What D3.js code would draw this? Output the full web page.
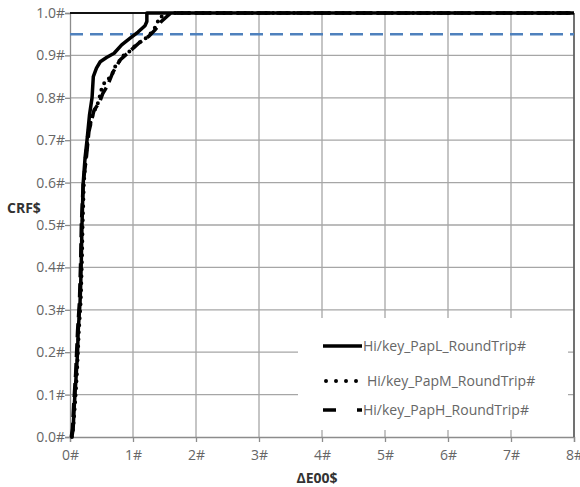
<!DOCTYPE html>
<html>
<head>
<meta charset="utf-8">
<script src="https://cdn.jsdelivr.net/npm/d3@7"></script>
<style>
  body { margin: 0; background: #fff; }
  text { font-family: "Open Sans", "Liberation Sans", sans-serif; }
</style>
</head>
<body>
<div id="chart"></div>
<script>
var svgWidth = 580;
var svgHeight = 487;

var margin = { top: 13, right: 6, bottom: 50, left: 70 };
var width = svgWidth - margin.left - margin.right;
var height = svgHeight - margin.top - margin.bottom;

// tick values and labels (labels carry the odd trailing characters of the original)
var xTicks = [0, 1, 2, 3, 4, 5, 6, 7, 8];
var yTicks = [0, 0.1, 0.2, 0.3, 0.4, 0.5, 0.6, 0.7, 0.8, 0.9, 1.0];
var threshold = 0.95;

var seriesNames = ["Hi/key_PapL_RoundTrip#", "Hi/key_PapM_RoundTrip#", "Hi/key_PapH_RoundTrip#"];

// cumulative curves, [deltaE00, CRF]
var papL = [[0.03, 0], [0.05, 0.02], [0.07, 0.08], [0.10, 0.15], [0.12, 0.2], [0.13, 0.25], [0.16, 0.32],
  [0.17, 0.36], [0.18, 0.42], [0.19, 0.5], [0.21, 0.6], [0.24, 0.66], [0.27, 0.7], [0.31, 0.76], [0.35, 0.8],
  [0.37, 0.85], [0.42, 0.87], [0.48, 0.885], [0.58, 0.895], [0.7, 0.905], [0.82, 0.925],
  [0.95, 0.94], [1.08, 0.955], [1.19, 0.97], [1.22, 0.98], [1.22, 1.0], [8, 1.0]];

var papM = [[0.03, 0], [0.05, 0.02], [0.08, 0.08], [0.11, 0.15], [0.14, 0.25], [0.17, 0.32],
  [0.19, 0.42], [0.2, 0.5], [0.22, 0.6], [0.25, 0.66], [0.29, 0.72], [0.36, 0.76], [0.45, 0.79],
  [0.5, 0.82], [0.56, 0.84], [0.66, 0.85], [0.7, 0.87], [0.85, 0.9], [0.95, 0.91], [1.05, 0.925],
  [1.2, 0.94], [1.3, 0.955], [1.37, 0.97], [1.42, 0.99], [1.6, 1.0], [8, 1.0]];

var papH = [[0.02, 0], [0.04, 0.02], [0.06, 0.08], [0.09, 0.15], [0.12, 0.25], [0.15, 0.32],
  [0.17, 0.42], [0.18, 0.5], [0.21, 0.6], [0.26, 0.66], [0.3, 0.72], [0.38, 0.77], [0.47, 0.79],
  [0.52, 0.81], [0.6, 0.83], [0.68, 0.86], [0.8, 0.89], [0.95, 0.91], [1.1, 0.93], [1.25, 0.945],
  [1.35, 0.96], [1.45, 0.98], [1.6, 1.0], [8, 1.0]];

var svg = d3.select("#chart")
  .append("svg")
  .attr("width", svgWidth)
  .attr("height", svgHeight);

var chartGroup = svg.append("g")
  .attr("transform", `translate(${margin.left}, ${margin.top})`);

var x = d3.scaleLinear().domain([0, 8]).range([0, width]);
var y = d3.scaleLinear().domain([0, 1]).range([height, 0]);

var gridColor = "#a6a6a6";
var textColor = "#666";

// gridlines
chartGroup.selectAll(".vgrid")
  .data(xTicks.slice(1))
  .enter().append("line")
  .attr("x1", d => x(d)).attr("x2", d => x(d))
  .attr("y1", 0).attr("y2", height)
  .attr("stroke", gridColor).attr("stroke-width", 1.3);

chartGroup.selectAll(".hgrid")
  .data(yTicks.slice(1))
  .enter().append("line")
  .attr("x1", 0).attr("x2", width)
  .attr("y1", d => y(d)).attr("y2", d => y(d))
  .attr("stroke", gridColor).attr("stroke-width", 1.3);

// axes
var bottomAxis = d3.axisBottom(x).tickValues(xTicks).tickSize(5).tickFormat(d => d + "#");
var leftAxis = d3.axisLeft(y).tickValues(yTicks).tickSize(5).tickFormat(d => d3.format(".1f")(d) + "#");

var xAxis = chartGroup.append("g")
  .attr("transform", `translate(0, ${height})`)
  .call(bottomAxis);
var yAxis = chartGroup.append("g").call(leftAxis);

[xAxis, yAxis].forEach(function(ax) {
  ax.select(".domain").attr("stroke", "#8c8c8c").attr("stroke-width", 1.3);
  ax.selectAll(".tick line").attr("stroke", "#8c8c8c").attr("stroke-width", 1.3);
  ax.selectAll(".tick text")
    .attr("fill", textColor)
    .style("font-size", "14px");
});
xAxis.selectAll(".tick text").attr("dy", "1.05em");
yAxis.selectAll(".tick text").attr("x", -5);

// frame: top and right
chartGroup.append("line")
  .attr("x1", 0).attr("x2", width).attr("y1", 0).attr("y2", 0)
  .attr("stroke", "#111").attr("stroke-width", 2);
chartGroup.append("line")
  .attr("x1", width).attr("x2", width).attr("y1", 0).attr("y2", height)
  .attr("stroke", "#555").attr("stroke-width", 1.5);

// 95% threshold
chartGroup.append("line")
  .attr("x1", 0).attr("x2", width)
  .attr("y1", y(threshold)).attr("y2", y(threshold))
  .attr("stroke", "#4f81bd").attr("stroke-width", 2.5)
  .attr("stroke-dasharray", "13,7");

// curves
var line = d3.line().x(d => x(d[0])).y(d => y(d[1]));

chartGroup.append("path").datum(papH)
  .attr("d", line).attr("fill", "none")
  .attr("stroke", "#000").attr("stroke-width", 3.5)
  .attr("stroke-dasharray", "14,6");

chartGroup.append("path").datum(papM)
  .attr("d", line).attr("fill", "none")
  .attr("stroke", "#000").attr("stroke-width", 4)
  .attr("stroke-linecap", "round")
  .attr("stroke-dasharray", "0,7");

chartGroup.append("path").datum(papL)
  .attr("d", line).attr("fill", "none")
  .attr("stroke", "#000").attr("stroke-width", 3.5)
  .attr("stroke-linejoin", "round");

// legend, white box laid over the grid
var legend = svg.append("g");
legend.append("rect")
  .attr("x", 298).attr("y", 318)
  .attr("width", 270).attr("height", 112)
  .attr("fill", "#fff");

var legendRows = [346, 381, 410];
var dashes = [null, "0,10", "13,21"];

seriesNames.forEach(function(name, i) {
  var row = legend.append("g").attr("transform", `translate(0, ${legendRows[i]})`);
  row.append("line")
    .attr("x1", i === 1 ? 326 : 323).attr("x2", 362)
    .attr("y1", 0).attr("y2", 0)
    .attr("stroke", "#000")
    .attr("stroke-width", i === 1 ? 4 : 3.5)
    .attr("stroke-linecap", i === 1 ? "round" : "butt")
    .attr("stroke-dasharray", dashes[i]);
  row.append("text")
    .attr("x", i === 1 ? 367 : 363)
    .attr("y", 0)
    .attr("dy", "0.35em")
    .attr("fill", textColor)
    .style("font-size", "14px")
    .text(name);
});

// axis titles
svg.append("text")
  .attr("x", 7).attr("y", 208)
  .attr("dy", "0.35em")
  .attr("fill", "#333")
  .style("font-size", "14px")
  .style("font-weight", "bold")
  .text("CRF$");

svg.append("text")
  .attr("x", 317).attr("y", 478)
  .attr("dy", "0.35em")
  .attr("text-anchor", "middle")
  .attr("fill", "#333")
  .style("font-size", "14px")
  .style("font-weight", "bold")
  .text("ΔE00$");
</script>
</body>
</html>
